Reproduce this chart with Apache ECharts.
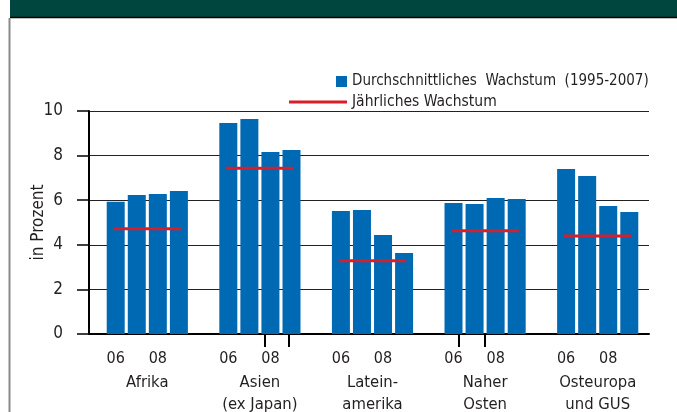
<!DOCTYPE html>
<html>
<head>
<meta charset="utf-8">
<script src="https://cdn.jsdelivr.net/npm/echarts@6/dist/echarts.min.js"></script>
<style>
html, body { margin: 0; padding: 0; background: #fff; }
#chart { width: 677px; height: 412px; }
</style>
</head>
<body>
<div id="chart"></div>
<script>
// data
var regions = ['Afrika', 'Asien\n(ex Japan)', 'Latein-\namerika', 'Naher\nOsten', 'Osteuropa\nund GUS'];
var years = ['06', '07', '08', '09'];
var growth06 = [5.93, 9.46, 5.52, 5.87, 7.40];
var growth07 = [6.23, 9.64, 5.56, 5.83, 7.09];
var growth08 = [6.28, 8.16, 4.44, 6.10, 5.74];
var growth09 = [6.41, 8.25, 3.63, 6.05, 5.47];
var avgGrowth = [4.72, 7.43, 3.29, 4.63, 4.39];
var yMin = 0, yMax = 10, yStep = 2;
// stray tick marks on the x axis (in category units)
var extraTicks = [1.57, 1.78, 3.30, 3.53];

var barName = 'Durchschnittliches  Wachstum  (1995-2007)';
var lineName = 'Jährliches Wachstum';
var FONT = "'Liberation Sans Narrow', 'Arial Narrow', 'DejaVu Sans Condensed', sans-serif";
var TXT = '#231f20';
var BLUE = '#0069b4';
var RED = '#d81e2a';

var chart = echarts.init(document.getElementById('chart'));

// bars sit in a second grid: the groups in the original are spread a bit wider than the axis frame
function barSeries(values, idx) {
    var showLabel = (idx === 0 || idx === 2);
    return {
        name: barName,
        type: 'bar',
        xAxisIndex: 2,
        yAxisIndex: 1,
        barWidth: 18,
        barGap: '17%',
        itemStyle: { color: BLUE },
        label: {
            show: showLabel,
            position: 'bottom',
            distance: 17,
            formatter: function () { return years[idx]; },
            fontFamily: FONT,
            fontSize: 16,
            color: TXT
        },
        data: values
    };
}

var option = {
    animation: false,
    textStyle: { fontFamily: FONT },
    graphic: [
        { type: 'rect', left: 10, top: 0, shape: { width: 667, height: 17 }, style: { fill: '#00463e' } },
        { type: 'line', shape: { x1: 10, y1: 17.5, x2: 677, y2: 17.5 }, style: { stroke: '#000', lineWidth: 1.5 } },
        { type: 'line', shape: { x1: 9.5, y1: 18, x2: 9.5, y2: 412 }, style: { stroke: '#8a8a8a', lineWidth: 2 } }
    ],
    legend: [
        {
            data: [{ name: barName, icon: 'rect' }],
            left: 336, top: 74,
            padding: 0,
            itemWidth: 11, itemHeight: 11,
            textStyle: { fontFamily: FONT, fontSize: 15, color: TXT },
            selectedMode: false
        },
        {
            data: [{ name: lineName, icon: 'rect' }],
            left: 289, top: 94,
            padding: 0,
            itemWidth: 58, itemHeight: 3,
            textStyle: { fontFamily: FONT, fontSize: 15.5, color: TXT },
            selectedMode: false
        }
    ],
    grid: [
        { left: 89, right: 28, top: 111, bottom: 78, outerBoundsMode: 'none' },
        { left: 91, right: 23, top: 111, bottom: 78, outerBoundsMode: 'none' }
    ],
    xAxis: [
        {
            type: 'category',
            gridIndex: 0,
            data: regions,
            axisLine: { lineStyle: { color: '#000', width: 2 } },
            axisTick: {
                length: 9,
                interval: function (index) { return index === 0; },
                lineStyle: { color: '#000', width: 2 }
            },
            axisLabel: { show: false }
        },
        {
            type: 'value',
            gridIndex: 0,
            position: 'bottom',
            min: 0, max: regions.length,
            axisLine: { show: false },
            splitLine: { show: false },
            axisLabel: { show: false },
            axisTick: {
                show: true,
                customValues: extraTicks,
                length: 13,
                lineStyle: { color: '#000', width: 2 }
            }
        },
        {
            type: 'category',
            gridIndex: 1,
            data: regions,
            axisLine: { show: false },
            axisTick: { show: false },
            axisLabel: {
                margin: 38,
                fontFamily: FONT,
                fontSize: 16.5,
                lineHeight: 22,
                color: TXT
            }
        }
    ],
    yAxis: [
        {
            type: 'value',
            gridIndex: 0,
            min: yMin, max: yMax, interval: yStep,
            name: 'in Prozent',
            nameLocation: 'middle',
            nameGap: 42,
            nameMoveOverlap: false,
            nameTextStyle: { fontFamily: FONT, fontSize: 17, color: TXT },
            axisLine: { show: true, lineStyle: { color: '#000', width: 2 } },
            axisTick: { show: true, length: 12, lineStyle: { color: '#000', width: 1.5 } },
            axisLabel: { margin: 26, fontFamily: FONT, fontSize: 17, color: TXT },
            splitLine: { lineStyle: { color: '#222', width: 1.2 } }
        },
        {
            type: 'value',
            gridIndex: 1,
            min: yMin, max: yMax, interval: yStep,
            show: false
        }
    ],
    series: [
        barSeries(growth06, 0),
        barSeries(growth07, 1),
        barSeries(growth08, 2),
        barSeries(growth09, 3),
        {
            name: lineName,
            type: 'custom',
            xAxisIndex: 2,
            yAxisIndex: 1,
            itemStyle: { color: RED },
            encode: { x: 0, y: 1 },
            data: avgGrowth.map(function (v, i) { return [i, v]; }),
            renderItem: function (params, api) {
                var p = api.coord([api.value(0), api.value(1)]);
                var half = api.size([1, 0])[0] * 0.3;
                return {
                    type: 'line',
                    shape: { x1: p[0] - half, y1: p[1], x2: p[0] + half, y2: p[1] },
                    style: { stroke: api.visual('color'), lineWidth: 3 }
                };
            },
            z: 5
        }
    ]
};

chart.setOption(option);
</script>
</body>
</html>
